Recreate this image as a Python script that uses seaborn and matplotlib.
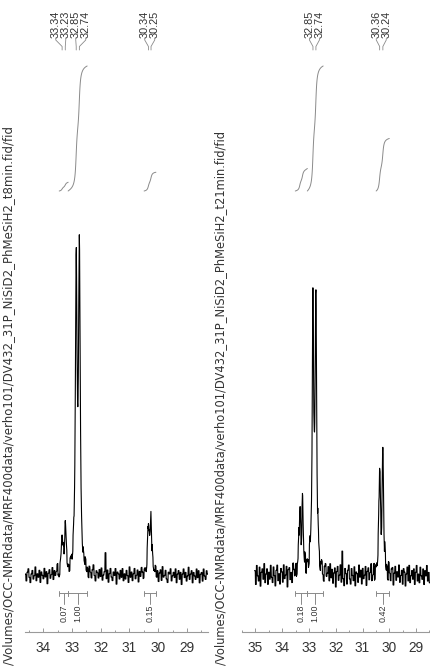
import numpy as np
import pandas as pd
import matplotlib
matplotlib.use("Agg")
import matplotlib.pyplot as plt
import seaborn as sns

# ---------------------------------------------------------------- data
# ppm window of each trace (left edge, right edge)
left_window = (34.63, 28.27)
right_window = (35.03, 28.48)

# t = 8 min : picked peaks (ppm) and apex intensities
left_peaks = [33.34, 33.23, 32.85, 32.74, 30.34, 30.25]
left_heights = [12.5, 15.1, 98.3, 100.0, 16.2, 18.3]

# t = 21 min : picked peaks (ppm) and apex intensities
right_peaks = [32.85, 32.74, 30.36, 30.24]
right_heights = [81.7, 83.5, 32.5, 36.8]
# unpicked minor doublet of the 21 min trace
right_minor_peaks = [33.34, 33.24]
right_minor_heights = [20.3, 22.0]

# integral regions (ppm) and normalised integrals
left_int_regions = [(33.44, 33.13), (33.13, 32.47), (30.49, 30.08)]
left_int_values = [0.07, 1.00, 0.15]
right_int_regions = [(33.51, 33.06), (33.06, 32.47), (30.49, 30.00)]
right_int_values = [0.18, 1.00, 0.42]

# baseline noise of each trace, one value per display point
left_noise = [
    0.5, -1.5, 1.0, 2.0, -0.5, -2.0, 0.5, 1.5, -1.0, 0.0, 2.5, -1.5, 0.5, -0.5, 1.5, -2.0, 1.0, 0.0, -1.0, 2.0,
    -0.5, 1.0, -2.5, 0.5, 1.5, -1.0, 0.0, 2.0, -1.5, 1.0, -0.5, 0.5, 2.5, -1.0, -2.0, 1.0, 0.5, -0.5, 1.5, -1.5,
    1.0, 2.0, -1.0, 0.0, -2.0, 1.5, 0.5, -1.5, 2.0, -0.5, 1.0, -2.5, 0.5, 1.5, -1.0, 2.0, 0.0, -1.5, 1.0, -0.5,
    2.0, -1.0, 0.5, -2.0, 1.5, 0.0, -1.5, 1.0, 2.5, -0.5, -2.0, 1.0, 0.5, -1.0, 1.5, -0.5, 2.0, -1.5, 0.0, 1.0,
    6.5, -1.0, 1.5, -2.0, 0.5, 2.0, -0.5, -1.5, 1.0, 0.0, 2.0, -2.5, 1.0, 0.5, -1.0, 1.5, -0.5, 2.0, -1.5, 0.5,
    -1.0, 1.5, 0.0, -2.0, 2.5, -0.5, 1.0, -1.5, 0.5, 2.0, -1.0, 0.0, 1.5, -2.0, 1.0, -0.5, 2.0, 0.5, -1.5, 1.0,
    0.0, -1.5, 2.0, -1.0, 1.0, 0.5, -2.5, 1.5, -0.5, 0.0, 2.0, -1.0, 1.0, -2.0, 0.5, 1.5, -1.5, 2.5, -0.5, 0.0,
    1.5, -1.0, -2.0, 1.0, 0.5, 2.0, -1.5, 0.0, 1.0, -0.5, 2.0, -2.0, 0.5, 1.5, -1.0, 1.0, -2.5, 0.5, 2.0, -0.5,
    1.0, -1.5, 0.0, 2.5, -1.0, 0.5, 1.5, -2.0, 1.0, 0.0, -1.0, 2.0, -0.5, 1.5, -2.0, 0.5, 1.0, -1.5, 2.0, 0.0,
    -1.0, 1.5, 0.5,
]
right_noise = [
    1.5, -2.5, 3.0, 0.0, -1.5, 2.5, -3.0, 1.0, 2.0, -1.0, 3.5, -2.0, 0.5, 2.0, -2.5, 1.0, -1.0, 3.0, -0.5, -2.0,
    2.5, 0.0, -3.0, 1.5, 3.0, -1.5, 0.5, -2.5, 2.0, 1.0, -2.0, 3.0, -1.0, 0.0, 2.5, -3.5, 1.5, 2.0, -1.5, 0.5,
    -2.5, 3.0, 1.0, -1.0, 2.0, -2.0, 0.5, 3.5, -1.5, 1.0, -3.0, 2.0, 0.0, -1.0, 2.5, -2.5, 1.5, 0.5, -2.0, 3.0,
    0.0, -1.5, 2.5, -3.0, 1.0, 2.0, -0.5, -2.0, 3.0, 1.0, -2.5, 0.5, 2.0, -1.5, -3.0, 1.5, 2.5, -1.0, 0.0, 2.0,
    -2.0, 3.0, -1.0, 1.5, -2.5, 0.5, 2.0, -3.5, 1.0, 2.5, -1.5, 0.0, 3.0, -2.0, 7.0, -1.0, -3.0, 2.0, 0.5, -2.5,
    1.5, 3.0, -1.0, -2.5, 2.0, 0.0, -1.5, 2.5, -3.0, 1.0, 0.5, -2.0, 3.0, -0.5, 1.5, -2.5, 2.0, -1.0, 0.0, 2.5,
    -3.0, 1.0, 2.0, -1.5, 0.5, 3.0, -2.0, -0.5, 2.5, -2.5, 1.0, 0.0, -1.5, 3.0, -1.0, 2.0, -3.0, 1.5, 0.5, -2.0,
    2.5, -1.0, 1.0, -2.5, 3.0, 0.0, -2.0, 1.5, 2.0, -3.0, 0.5, 2.5, -1.5, 1.0, -0.5, 3.0, -2.0, 0.0, 1.5, -2.5,
    2.0, 1.0, -3.0, 0.5, 2.5, -1.5, 3.0, -2.0, 0.0, 1.5, -1.0, 2.0, -2.5, 1.0, 3.0, -1.5, 0.5, -2.0, 2.5, 0.0,
    -1.0, 2.0, -2.5, 1.5, 0.0, 3.0, -1.5, 1.0, -2.0,
]

left_file = "/Volumes/OCC-NMRdata/MRF400data/verho101/DV432_31P_NiSiD2_PhMeSiH2_t8min.fid/fid"
right_file = "/Volumes/OCC-NMRdata/MRF400data/verho101/DV432_31P_NiSiD2_PhMeSiH2_t21min.fid/fid"

# ---------------------------------------------------------------- style
sns.set_theme(style="white")
plt.rcParams["font.family"] = ["Liberation Sans", "DejaVu Sans"]

W, H = 430, 666
DPI = 100
HWHM = 0.033          # Lorentzian half width (ppm)
OVERSAMPLE = 4        # display points drawn per noise point
AX_H = 632            # height of each trace area in pixels (from top)
INT_BASE = 191        # pixel row of integral baselines
INT_UNIT = 125        # pixel rise of an integral of 1.00
GREY = "#8a8a8a"
TXT = "#333333"


def lorentz(x, x0):
    return 1.0 / (1.0 + ((x - x0) / HWHM) ** 2)


def amplitudes(pos, apex):
    """Line amplitudes giving the requested apex heights for overlapping lines."""
    pos = np.asarray(pos)
    m = lorentz(pos[:, None], pos[None, :])
    return np.linalg.solve(m, np.asarray(apex))


def lineshape(x, pos, amp):
    return sum(a * lorentz(x, p) for p, a in zip(pos, amp))


def yf(py):
    """pixel row (from top of figure) -> axes fraction"""
    return (AX_H - py) / AX_H


def spread(xs, gap):
    groups = [[x] for x in xs]
    while True:
        pos = []
        for g in groups:
            n = len(g)
            pos.append(np.mean(g) + gap * (np.arange(n) - (n - 1) / 2))
        for i in range(len(groups) - 1):
            if pos[i + 1][0] - pos[i][-1] < gap - 1e-9:
                groups[i] = groups[i] + groups[i + 1]
                del groups[i + 1]
                break
        else:
            return np.concatenate(pos)


fig = plt.figure(figsize=(W / DPI, H / DPI), dpi=DPI)
ax_l = fig.add_axes([25 / W, (H - AX_H) / H, 183 / W, AX_H / H])
ax_r = fig.add_axes([242 / W, (H - AX_H) / H, 188 / W, AX_H / H], sharey=ax_l)

px_per_unit = 3.45
ylim = (-(AX_H - 576) / px_per_unit, 576 / px_per_unit)


def draw(ax, window, peaks, heights, extra_p, extra_h, noise, regions, values, fname, text_x):
    all_p = list(extra_p) + list(peaks)
    all_h = list(extra_h) + list(heights)
    amp = amplitudes(all_p, all_h)

    n = len(noise)
    x = np.linspace(window[0], window[1], OVERSAMPLE * n)
    y = lineshape(x, all_p, amp) + np.repeat(np.asarray(noise), OVERSAMPLE)
    df = pd.DataFrame({"ppm": x, "intensity": y})
    sns.lineplot(data=df, x="ppm", y="intensity", ax=ax, color="black",
                 lw=0.8, sort=False, estimator=None)

    ax.set_xlim(window)
    ax.set_ylim(ylim)
    ax.set_xlabel("")
    ax.set_ylabel("")
    ax.set_yticks([])
    for s in ("left", "right", "top"):
        ax.spines[s].set_visible(False)
    ax.spines["bottom"].set_color("#9a9a9a")
    ax.spines["bottom"].set_linewidth(0.8)
    lo, hi = int(np.ceil(min(window))), int(np.floor(max(window)))
    ax.set_xticks(np.arange(lo, hi + 1))
    ax.set_xticks(np.arange(lo - 0.5, hi + 1.0, 0.5), minor=True)
    ax.tick_params(axis="x", which="major", direction="in", length=3.0, width=0.7,
                   color="#9a9a9a", labelsize=9.8, labelcolor=TXT, pad=6.5, bottom=True)
    ax.tick_params(axis="x", which="minor", direction="in", length=1.8, width=0.7,
                   color="#9a9a9a", bottom=True)

    tr = ax.get_xaxis_transform()

    # integral curves and brackets
    for (a, b), v in zip(regions, values):
        xi = np.linspace(a, b, 120)
        cum = np.cumsum(lineshape(xi, all_p, amp))
        cum = (cum - cum[0]) / (cum[-1] - cum[0])
        ax.plot(xi, yf(INT_BASE) + v * INT_UNIT / AX_H * cum, color=GREY, lw=0.7,
                transform=tr)
        cap = 2.5 / AX_H
        yb = yf(593)
        ax.plot([a, b], [yb, yb], color=GREY, lw=0.7, transform=tr)
        for e in (a, b):
            ax.plot([e, e], [yb - cap, yb + cap], color=GREY, lw=0.7, transform=tr)
        c = (a + b) / 2
        ax.plot([c, c], [yb, yf(604)], color=GREY, lw=0.7, transform=tr)
        ax.text(c, yf(605), f"{v:.2f}", rotation=90, ha="center", va="top",
                fontsize=6.4, color=TXT, transform=tr)

    # peak picking labels
    to_px = lambda p: ax.transData.transform((p, 0))[0]
    px = np.array([to_px(p) for p in peaks])
    lab_px = spread(px, 10.0)
    inv = ax.transData.inverted()
    lab_ppm = [inv.transform((q, 0))[0] for q in lab_px]
    for p, q in zip(peaks, lab_ppm):
        ax.text(q, yf(37.5), f"{p:.2f}", rotation=90, ha="center", va="bottom",
                fontsize=7.8, color=TXT, transform=tr)
        ax.plot([q, q, p, p], [yf(38.5), yf(40), yf(46.5), yf(50)], color=GREY,
                lw=0.6, transform=tr, clip_on=False)

    # acquisition file path
    t = fig.text(text_x / W, 1 / H, fname, rotation=90, ha="center", va="bottom",
                 fontsize=8.2, color=TXT, family="DejaVu Sans")
    return t


t1 = draw(ax_l, left_window, left_peaks, left_heights, [], [], left_noise,
          left_int_regions, left_int_values, left_file, 9)
t2 = draw(ax_r, right_window, right_peaks, right_heights, right_minor_peaks,
          right_minor_heights, right_noise, right_int_regions, right_int_values,
          right_file, 221)

# fit the file path to its column
renderer = fig.canvas.get_renderer()
for t, length in ((t1, 536), (t2, 536)):
    h = t.get_window_extent(renderer).height
    t.set_fontsize(t.get_fontsize() * length / h)

fig.savefig("out.png", dpi=DPI, facecolor="white")
